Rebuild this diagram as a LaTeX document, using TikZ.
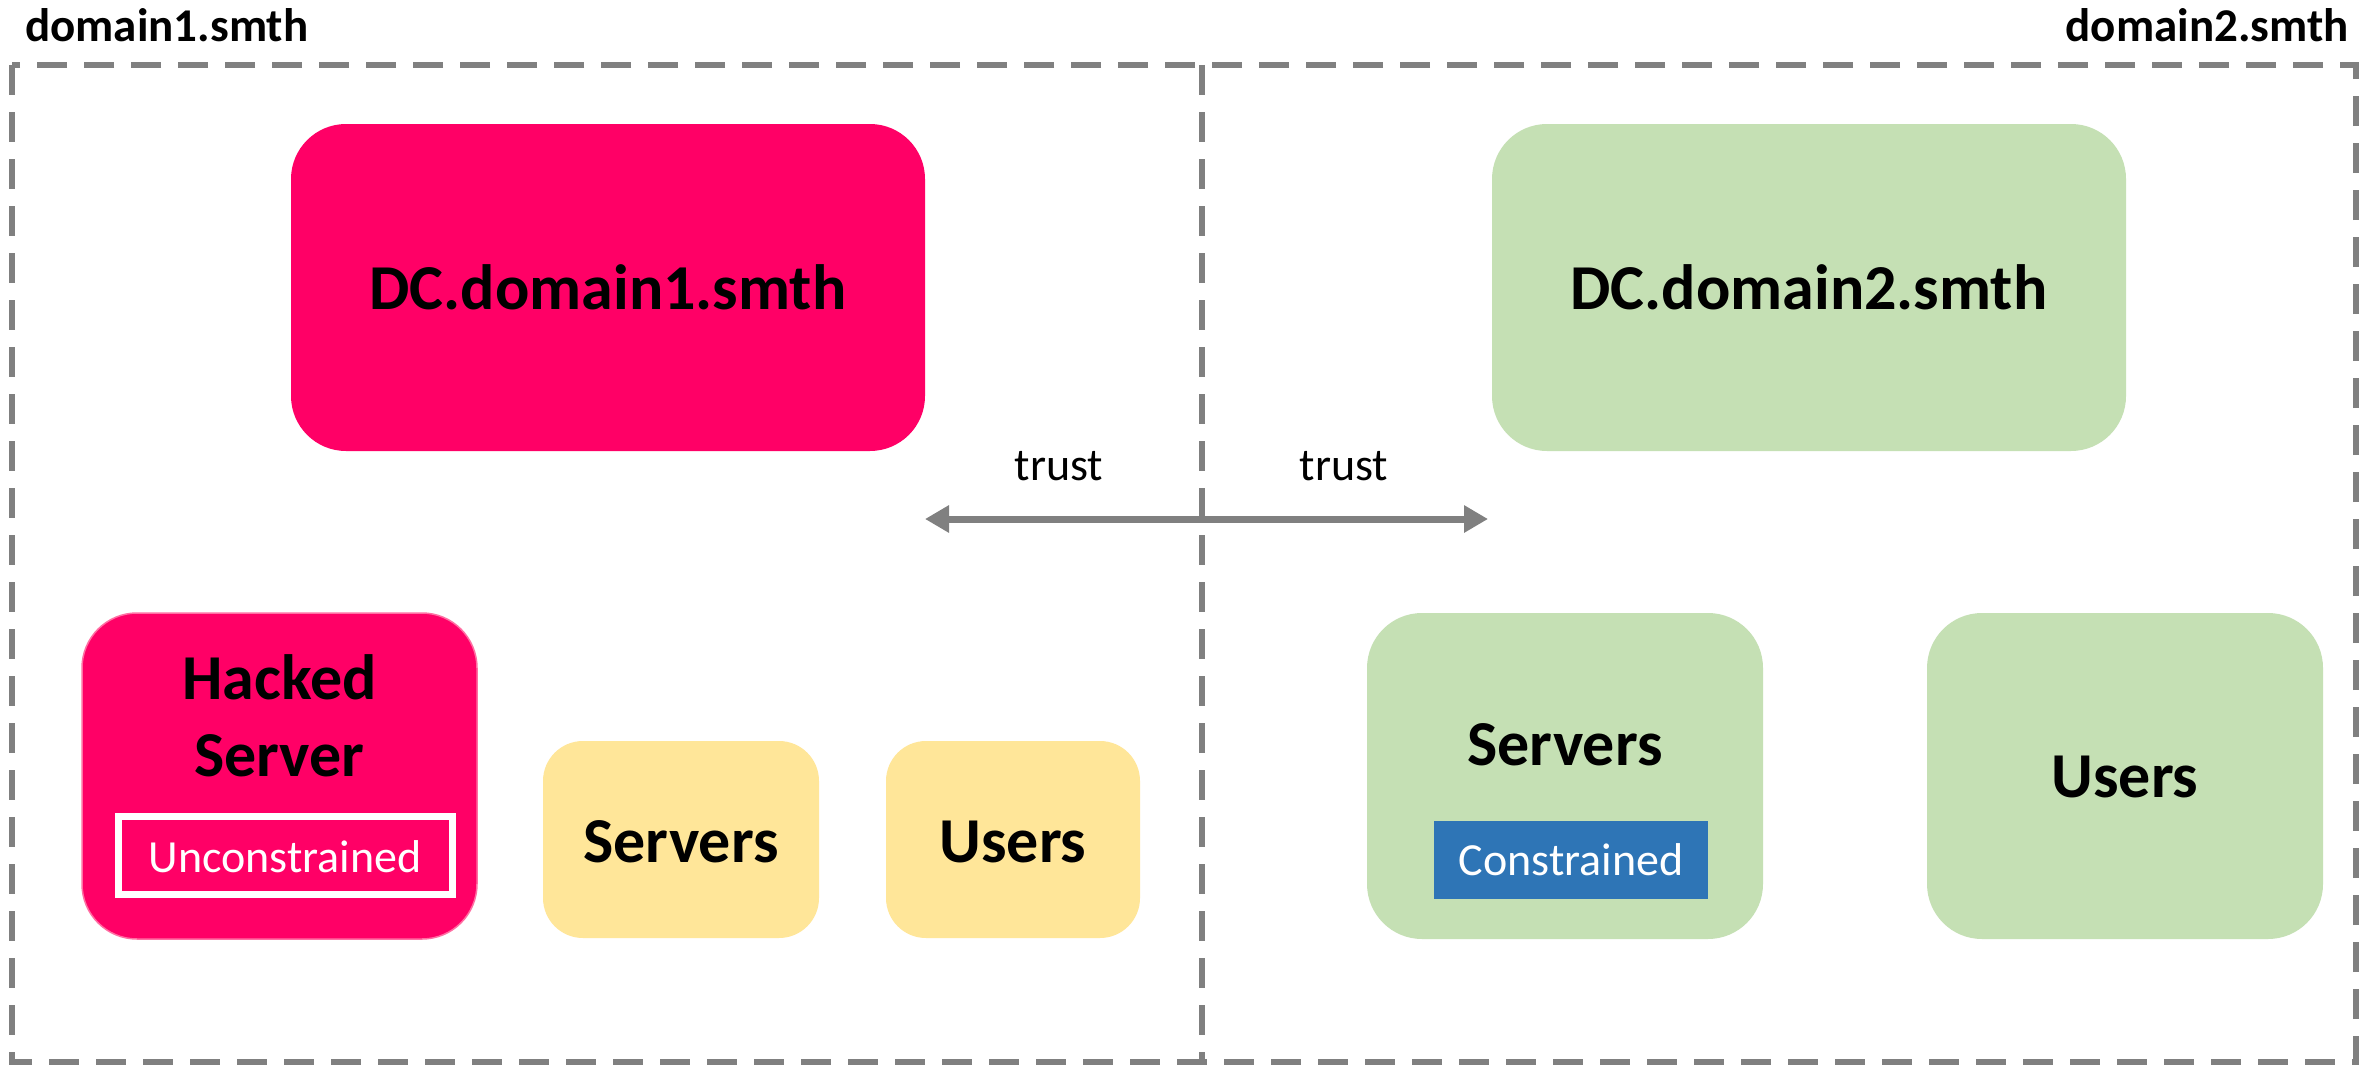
\documentclass[tikz,border=0pt]{standalone}
\usepackage{fontspec}
\setmainfont{Carlito}
\usetikzlibrary{arrows.meta}
\definecolor{hotpink}{HTML}{FF0066}
\definecolor{pinkedge}{HTML}{FF6FA3}
\definecolor{lightgreen}{HTML}{C5E0B4}
\definecolor{lightyellow}{HTML}{FFE699}
\definecolor{midblue}{HTML}{2E75B6}
\definecolor{dashgray}{HTML}{808080}
\tikzset{
  box/.style={rectangle, rounded corners=55pt, inner sep=0pt, draw=none},
  smallbox/.style={rectangle, rounded corners=40pt, inner sep=0pt, draw=none},
  domainline/.style={draw=dashgray, line width=6pt, dash pattern=on 30pt off 17pt},
  bigtxt/.style={inner sep=0pt, anchor=base, font=\fontsize{64}{77}\selectfont\bfseries},
  domtxt/.style={inner sep=0pt, anchor=base, font=\fontsize{47}{56}\selectfont\bfseries},
  tagtxt/.style={inner sep=0pt, anchor=base, font=\fontsize{46}{55}\selectfont, text=white},
  trusttxt/.style={inner sep=0pt, anchor=base, font=\fontsize{46}{55}\selectfont},
  trustarrow/.style={draw=dashgray, line width=7pt, {Triangle[length=24pt,width=26pt]}-{Triangle[length=24pt,width=26pt]}}
}
\begin{document}
\begin{tikzpicture}[x=1pt,y=-1pt]
\useasboundingbox (0,0) rectangle (2374,1065);
\fill[white] (0,0) rectangle (2374,1065);
% domain frames
\draw[domainline] (12,65) rectangle (2356,1062);
\draw[domainline] (1202,65) -- (1202,1062);
\node[domtxt, anchor=base west] (d1lbl) at (25,42) {domain1.smth};
\node[domtxt, anchor=base east] (d2lbl) at (2349,42) {domain2.smth};
% domain controllers
\node[box, fill=hotpink, minimum width=634pt, minimum height=327pt] (dc1) at (608,287.5) {};
\node[bigtxt] (dc1t) at (608,309) {DC.domain1.smth};
\node[box, fill=lightgreen, minimum width=634pt, minimum height=327pt] (dc2) at (1809,287.5) {};
\node[bigtxt] (dc2t) at (1809,309) {DC.domain2.smth};
% trust arrow
\coordinate (tl) at (925,519);
\coordinate (tr) at (1488,519);
\draw[trustarrow] (tl) -- (tr);
\node[trusttxt] (trustl) at (1059,480) {trust};
\node[trusttxt] (trustr) at (1344,480) {trust};
% domain1 lower boxes
\node[box, fill=hotpink, draw=pinkedge, line width=1.5pt, minimum width=395pt, minimum height=326pt] (hacked) at (279.5,776) {};
\node[bigtxt] (hackedt1) at (279.5,699) {Hacked};
\node[bigtxt] (hackedt2) at (279.5,776) {Server};
\node[rectangle, draw=white, line width=7pt, inner sep=0pt, minimum width=334pt, minimum height=78pt] (uncon) at (285.5,855.5) {};
\node[tagtxt] (uncont) at (285,872) {Unconstrained};
\node[smallbox, fill=lightyellow, minimum width=276pt, minimum height=197pt] (srv1) at (681,839.5) {};
\node[bigtxt] (srv1t) at (681,862) {Servers};
\node[smallbox, fill=lightyellow, minimum width=254pt, minimum height=197pt] (usr1) at (1013,839.5) {};
\node[bigtxt] (usr1t) at (1013,862) {Users};
% domain2 lower boxes
\node[box, fill=lightgreen, minimum width=396pt, minimum height=326pt] (srv2) at (1565,776) {};
\node[bigtxt] (srv2t) at (1565,765) {Servers};
\node[rectangle, fill=midblue, inner sep=0pt, minimum width=274pt, minimum height=78pt] (con) at (1571,860) {};
\node[tagtxt] (cont) at (1571,875) {Constrained};
\node[box, fill=lightgreen, minimum width=396pt, minimum height=326pt] (usr2) at (2125,776) {};
\node[bigtxt] (usr2t) at (2125,797) {Users};
\end{tikzpicture}
\end{document}
